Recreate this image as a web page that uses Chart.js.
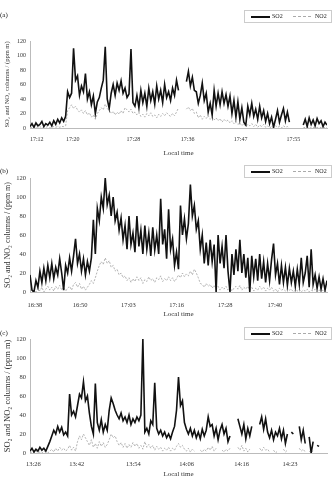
<!DOCTYPE html>
<html>
<head>
<meta charset="utf-8">
<script src="https://cdn.jsdelivr.net/npm/chart.js@4.4.0/dist/chart.umd.min.js"></script>
<style>
  body { margin: 0; background: #fff; font-family: "Liberation Serif", serif; color: #222; }
  #wrap { position: relative; width: 332px; height: 480px; overflow: hidden; }
  .panel { position: absolute; left: 0; width: 332px; height: 160px; }
  .tag { position: absolute; left: 0; font-size: 7px; line-height: 7px; }
  .leg { position: absolute; left: 244px; width: 86px; height: 11px; border: 1px solid #ccc; font-size: 6px; line-height: 11px; }
  .leg .s { position: absolute; left: 6px; top: 4.5px; width: 19px; border-top: 2px solid #111; }
  .leg .n { position: absolute; left: 48px; top: 5px; width: 18px; border-top: 1px dashed #aaa; }
  .leg .t1 { position: absolute; left: 27px; top: 0; }
  .leg .t2 { position: absolute; left: 70px; top: 0; }
</style>
</head>
<body>
<div id="wrap">
  <div class="panel" style="top:0"><canvas id="ca" width="332" height="160"></canvas></div>
  <div class="panel" style="top:160px"><canvas id="cb" width="332" height="160"></canvas></div>
  <div class="panel" style="top:320px"><canvas id="cc" width="332" height="160"></canvas></div>

  <div class="tag" style="top:12px">(a)</div>
  <div class="tag" style="top:168px">(b)</div>
  <div class="tag" style="top:330px">(c)</div>

  <div class="leg" style="top:10px"><span class="s"></span><span class="t1">SO2</span><span class="n"></span><span class="t2">NO2</span></div>
  <div class="leg" style="top:165px"><span class="s"></span><span class="t1">SO2</span><span class="n"></span><span class="t2">NO2</span></div>
  <div class="leg" style="top:327px"><span class="s"></span><span class="t1">SO2</span><span class="n"></span><span class="t2">NO2</span></div>
</div>

<script>
// sample index 0..150 along each record, gaps as null
const so2A = [
  2, 6, 1, 7, 3, 5, 9, 2, 6, 4,
  8, 3, 10, 5, 12, 7, 14, 9, 16, 50,
  42, 48, 110, 66, 72, 45, 58, 50, 75, 40,
  50, 32, 44, 20, 36, 42, 55, 66, 112, 40,
  27, 48, 60, 45, 62, 52, 65, 48, 55, 42,
  47, 109, 35, 30, 45, 28, 52, 35, 48, 30,
  55, 38, 50, 33, 58, 40, 52, 35, 60, 42,
  50, 38, 55, 45, 66, 52, null, null, null, 64,
  78, 58, 70, 52, 50, 34, 45, 62, 38, 48,
  22, 34, 18, 52, 30, 48, 32, 50, 34, 46,
  30, 44, 20, 38, 15, 36, 12, 28, 8, 4,
  30, 18, 34, 16, 26, 12, 30, 14, 24, 9,
  20, 6, 15, 1, 12, 24, 8, 18, 27, 10,
  22, 8, null, null, null, null, null, null, 4, 12,
  2, 14, 5, 11, 3, 13, 6, 10, 2, 8, 4
];
const no2A = [
  0, 1, 0, 1, 0, 2, 0, 1, 1, 2,
  0, 1, 2, 1, 2, 1, 2, 2, 3, 24,
  28, 32, 27, 30, 25, 22, 25, 20, 24, 18,
  21, 15, 18, 12, 20, 24, 28, 25, 33, 27,
  24, 20, 23, 18, 22, 19, 24, 20, 28, 25,
  22, 26, 20, 22, 18, 21, 16, 19, 15, 20,
  17, 21, 16, 18, 14, 19, 16, 20, 17, 21,
  18, 16, 20, 17, 22, 28, null, null, null, 26,
  29, 24, 27, 20, 22, 14, 18, 12, 16, 13,
  17, 12, 15, 11, 14, 10, 13, 8, 12, 9,
  11, 7, 10, 6, 9, 5, 7, 3, 6, 2,
  5, 3, 6, 2, 5, 1, 4, 2, 5, 1,
  3, 0, 2, 0, 3, 1, 2, 0, 3, 1,
  2, 0, null, null, null, null, null, null, 0, 1,
  0, 1, 0, 1, 0, 1, 0, 1, 0, 1, 0
];
const tickIdxA = [3.4, 21.6, 52.2, 79.6, 106.4, 133];
const tickLblA = ['17:12', '17:20', '17:28', '17:36', '17:47', '17:55'];

const so2B = [
  18, 2, 0, 12, 5, 22, 10, 25, 12, 28,
  15, 30, 14, 26, 18, 35, 20, 2, 28, 20,
  36, 22, 38, 56, 30, 40, 22, 35, 18, 32,
  22, 36, 76, 40, 88, 75, 100, 88, 120, 92,
  102, 80, 100, 75, 84, 65, 78, 55, 70, 45,
  80, 50, 62, 42, 80, 48, 65, 40, 70, 45,
  62, 38, 68, 44, 60, 40, 98, 50, 66, 35,
  87, 45, 56, 28, 42, 24, 91, 60, 77, 56,
  72, 113, 80, 91, 66, 75, 45, 60, 30, 52,
  28, 55, 32, 50, 0, 60, 30, 48, 25, 60,
  22, 0, 40, 18, 45, 22, 55, 20, 40, 15,
  36, 0, 38, 16, 35, 12, 40, 14, 32, 10,
  30, 12, 34, 51, 18, 30, 8, 28, 10, 26,
  7, 25, 10, 22, 6, 24, 8, 36, 10, 20,
  38, 5, 45, 8, 18, 4, 16, 3, 14, 2, 12
];
const no2B = [
  3, 0, 1, 0, 4, 1, 5, 0, 3, 6,
  2, 5, 1, 6, 3, 7, 2, 5, 1, 4,
  6, 2, 8, 10, 5, 9, 3, 6, 2, 5,
  8, 12, 9, 15, 22, 28, 32, 29, 36, 30,
  33, 26, 28, 22, 24, 18, 20, 15, 17, 12,
  15, 10, 14, 11, 16, 12, 15, 9, 13, 11,
  16, 12, 14, 10, 15, 13, 17, 11, 14, 12,
  16, 12, 15, 11, 14, 18, 15, 20, 16, 19,
  17, 22, 18, 24, 20, 15, 9, 8, 5, 9,
  6, 8, 4, 7, 3, 6, 2, 5, 3, 6,
  2, 5, 1, 4, 6, 3, 7, 2, 5, 3,
  6, 2, 5, 1, 4, 2, 6, 3, 5, 1,
  4, 2, 5, 1, 3, 0, 4, 2, 3, 1,
  4, 2, 3, 0, 2, 1, 3, 0, 2, 1,
  3, 0, 2, 1, 3, 0, 2, 1, 2, 0, 1
];
const tickIdxB = [2.5, 25.3, 49.7, 74.1, 98.5, 123.7];
const tickLblB = ['16:38', '16:50', '17:03', '17:16', '17:28', '17:40'];

const so2C = [
  2, 5, 1, 4, 2, 6, 3, 5, 2, 7,
  12, 18, 24, 20, 28, 22, 27, 19, 22, 18,
  62, 40, 44, 38, 50, 62, 58, 75, 55, 60,
  42, 28, 20, 73, 32, 24, 35, 22, 30, 24,
  45, 58, 52, 45, 40, 36, 42, 34, 38, 32,
  40, 30, 36, 32, 38, 34, 40, 120, 22, 26,
  20, 34, 30, 74, 26, 20, 24, 18, 22, 16,
  20, 15, 22, 28, 45, 80, 50, 55, 32, 25,
  20, 26, 18, 24, 16, 22, 15, 25, 18, 24,
  38, 28, 30, 18, 26, 14, 24, 30, 20, 26,
  12, 18, null, null, null, 36, 28, 20, 30, 15,
  26, 18, 28, null, null, null, 30, 38, 25, 36,
  22, 16, 24, 14, 22, 18, 26, 15, 24, 10,
  20, null, 22, 20, null, null, 28, 14, 24, 10,
  null, 17, 0, 12, null, 8, 7, null, null, null, null
];
const no2C = [
  0, 1, 0, 2, 0, 1, 0, 2, 1, 0,
  2, 4, 1, 5, 2, 6, 3, 5, 2, 4,
  8, 3, 6, 2, 12, 18, 14, 20, 16, 12,
  8, 14, 6, 10, 5, 12, 7, 11, 6, 9,
  14, 20, 16, 18, 12, 8, 11, 6, 10, 5,
  9, 6, 11, 7, 10, 5, 8, 4, 12, 6,
  9, 5, 8, 3, 7, 4, 6, 2, 5, 3,
  6, 2, 5, 3, 7, 10, 6, 8, 4, 2,
  5, 1, 4, 2, null, null, 3, 1, 4, 2,
  6, 3, 7, 2, 5, null, null, 3, 1, 4,
  2, 5, null, null, null, 6, 3, 8, 2, 5,
  1, 4, null, null, null, null, 5, 2, 6, 3,
  4, 1, null, 3, 0, 2, null, null, 4, 1,
  3, null, null, null, null, null, 5, 2, 4, 1,
  null, 2, 0, 3, null, null, null, null, null, null, null
];
const tickIdxC = [1.7, 23.6, 52.2, 79.1, 106.9, 131.3];
const tickLblC = ['13:26', '13:42', '13:54', '14:06', '14:16', '14:23'];

const yTitle = 'SO\u2082 and NO\u2082 columns / (ppm m)';
const serif = '"Liberation Serif", "Times New Roman", serif';

function toXY(arr) {
  return arr.map((v, i) => ({ x: i, y: v }));
}

function makeChart(id, so2, no2, tickIdx, tickLbl, opt) {
  new Chart(document.getElementById(id), {
    type: 'line',
    data: {
      datasets: [
        { label: 'SO2', data: toXY(so2), borderColor: '#111', borderWidth: 1.6, pointRadius: 0, spanGaps: false },
        { label: 'NO2', data: toXY(no2), borderColor: '#aaa', borderWidth: 0.9, borderDash: [2, 1.5], pointRadius: 0, spanGaps: false }
      ]
    },
    options: {
      responsive: false,
      animation: false,
      devicePixelRatio: 1,
      layout: { padding: { top: opt.top, right: 5, left: 0, bottom: 0 } },
      plugins: { legend: { display: false }, tooltip: { enabled: false } },
      scales: {
        x: {
          type: 'linear',
          min: 0,
          max: so2.length - 1,
          afterFit: s => { s.height = opt.axisH; },
          afterBuildTicks: s => { s.ticks = tickIdx.map(v => ({ value: v })); },
          grid: { display: false, drawTicks: false },
          border: { display: true, color: '#bbb', width: 1 },
          ticks: {
            autoSkip: false, maxRotation: 0, padding: opt.labelPad,
            color: '#333', font: { family: serif, size: opt.tickSize },
            callback: (v, k) => tickLbl[k]
          },
          title: {
            display: true, text: 'Local time', color: '#333',
            font: { family: serif, size: 7 }, padding: { top: 0, bottom: opt.titlePad }
          }
        },
        y: {
          min: 0,
          max: 120,
          afterFit: s => { s.width = 30; },
          grid: { display: false, drawTicks: false },
          border: { display: true, color: '#bbb', width: 1 },
          ticks: { stepSize: 20, padding: 4, color: '#333', font: { family: serif, size: opt.tickSize } },
          title: {
            display: true, text: yTitle, color: '#333',
            font: { family: serif, size: opt.ySize }, padding: { top: 3, bottom: 0 }
          }
        }
      }
    }
  });
}

makeChart('ca', so2A, no2A, tickIdxA, tickLblA, { top: 41, axisH: 32, labelPad: 8, titlePad: 3, tickSize: 6, ySize: 6.5 });
makeChart('cb', so2B, no2B, tickIdxB, tickLblB, { top: 18, axisH: 28, labelPad: 9, titlePad: 2, tickSize: 6.5, ySize: 8 });
makeChart('cc', so2C, no2C, tickIdxC, tickLblC, { top: 19, axisH: 27, labelPad: 7, titlePad: 2, tickSize: 6.5, ySize: 8.5 });
</script>
</body>
</html>
